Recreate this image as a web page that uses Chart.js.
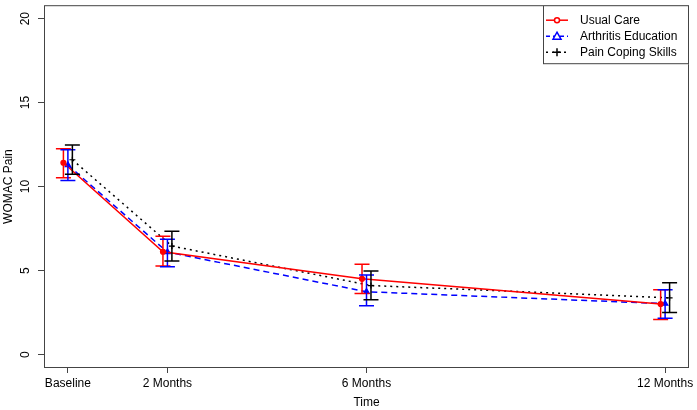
<!DOCTYPE html>
<html>
<head>
<meta charset="utf-8">
<script src="https://cdn.jsdelivr.net/npm/chart.js@4/dist/chart.umd.min.js"></script>
<style>
  html, body { margin: 0; padding: 0; background: #fff; }
  #wrap { width: 697px; height: 410px; }
</style>
</head>
<body>
<div id="wrap"><canvas id="chart"></canvas></div>
<script>
// time points (months) and their axis labels
var timeMonths = [0, 2, 6, 12];
var timeLabels = ["Baseline", "2 Months", "6 Months", "12 Months"];

// WOMAC pain means with lower / upper error bar ends
var usualCare      = [11.42, 6.12, 4.51, 3.01];
var usualCareLow   = [10.53, 5.27, 3.64, 2.09];
var usualCareHigh  = [12.26, 7.05, 5.37, 3.86];

var arthritisEd     = [11.28, 6.10, 3.74, 3.03];
var arthritisEdLow  = [10.36, 5.23, 2.91, 2.16];
var arthritisEdHigh = [12.19, 6.87, 4.74, 3.86];

var painCoping     = [11.60, 6.46, 4.11, 3.38];
var painCopingLow  = [10.73, 5.57, 3.27, 2.50];
var painCopingHigh = [12.48, 7.34, 4.98, 4.27];

var yTicks = [0, 5, 10, 15, 20];

var FONT = "'Liberation Sans', Arial, sans-serif";

function points(vals, shift){
  return vals.map(function(v, i){ return {x: timeMonths[i] + shift, y: v}; });
}

var seriesInfo = [
  {label: "Usual Care", color: "#ff0000", dash: [], pt: "circle", vals: usualCare, lo: usualCareLow, hi: usualCareHigh, shift: -0.09, r: 2.5},
  {label: "Arthritis Education", color: "#0000ff", dash: [6, 4], pt: "triangle", vals: arthritisEd, lo: arthritisEdLow, hi: arthritisEdHigh, shift: 0, r: 3.2},
  {label: "Pain Coping Skills", color: "#000000", dash: [2, 4], pt: "cross", vals: painCoping, lo: painCopingLow, hi: painCopingHigh, shift: 0.09, r: 3}
];

var datasets = seriesInfo.map(function(s){
  return {
    label: s.label,
    data: points(s.vals, s.shift),
    borderColor: s.color,
    backgroundColor: s.color,
    borderWidth: 1.5,
    borderDash: s.dash,
    pointStyle: s.pt,
    pointRadius: s.r,
    pointBorderWidth: 1.2,
    pointBorderColor: s.color,
    pointBackgroundColor: s.color,
    tension: 0,
    fill: false
  };
});

// error bars, drawn through the chart's own scales
var errorBars = {
  id: "errorBars",
  afterDatasetsDraw: function(chart){
    var ctx = chart.ctx, ys = chart.scales.y;
    seriesInfo.forEach(function(s, di){
      var meta = chart.getDatasetMeta(di);
      ctx.save();
      ctx.strokeStyle = s.color;
      ctx.lineWidth = 1.5;
      meta.data.forEach(function(p, i){
        var x = p.x, y1 = ys.getPixelForValue(s.lo[i]), y2 = ys.getPixelForValue(s.hi[i]);
        ctx.beginPath();
        ctx.moveTo(x, y1); ctx.lineTo(x, y2);
        ctx.moveTo(x - 7.5, y1); ctx.lineTo(x + 7.5, y1);
        ctx.moveTo(x - 7.5, y2); ctx.lineTo(x + 7.5, y2);
        ctx.stroke();
      });
      ctx.restore();
    });
  }
};

// box around plot, rotated y tick labels (R style) and legend top right
var boxAndLegend = {
  id: "boxAndLegend",
  afterDraw: function(chart){
    var ctx = chart.ctx, a = chart.chartArea, ys = chart.scales.y;
    ctx.save();
    ctx.strokeStyle = "#444";
    ctx.lineWidth = 1;
    ctx.strokeRect(a.left + 0.5, a.top + 0.5, a.right - a.left - 1, a.bottom - a.top - 1);

    ctx.font = "12px " + FONT;
    ctx.fillStyle = "#000";
    ctx.textAlign = "center";
    ctx.textBaseline = "middle";
    yTicks.forEach(function(v){
      ctx.save();
      ctx.translate(a.left - 18, ys.getPixelForValue(v));
      ctx.rotate(-Math.PI / 2);
      ctx.fillText(String(v), 0, 0);
      ctx.restore();
    });

    var lx = a.right - 146, ly = a.top, lw = 146, lh = 59;
    ctx.fillStyle = "#fff";
    ctx.fillRect(lx, ly, lw, lh);
    ctx.strokeRect(lx + 0.5, ly + 0.5, lw - 1, lh - 1);
    ctx.textBaseline = "middle";
    ctx.textAlign = "left";
    seriesInfo.forEach(function(s, i){
      var yy = ly + 15 + i * 16;
      ctx.strokeStyle = s.color;
      ctx.lineWidth = 1.5;
      ctx.setLineDash(s.dash.length ? (i === 1 ? [4, 3] : [2, 4]) : []);
      ctx.beginPath();
      ctx.moveTo(lx + 3, yy); ctx.lineTo(lx + 25, yy);
      ctx.stroke();
      ctx.setLineDash([]);
      var cx = lx + 14;
      ctx.beginPath();
      if (s.pt === "circle") {
        ctx.fillStyle = "#fff";
        ctx.arc(cx, yy, 2.5, 0, Math.PI * 2);
        ctx.fill(); ctx.stroke();
      } else if (s.pt === "triangle") {
        ctx.fillStyle = "#fff";
        ctx.moveTo(cx, yy - 4); ctx.lineTo(cx + 4, yy + 3); ctx.lineTo(cx - 4, yy + 3); ctx.closePath();
        ctx.fill(); ctx.stroke();
      } else {
        ctx.moveTo(cx - 4, yy); ctx.lineTo(cx + 4, yy);
        ctx.moveTo(cx, yy - 4); ctx.lineTo(cx, yy + 4);
        ctx.stroke();
      }
      ctx.fillStyle = "#000";
      ctx.fillText(s.label, lx + 37, yy);
    });
    ctx.restore();
  }
};

new Chart(document.getElementById("chart").getContext("2d"), {
  type: "line",
  data: {datasets: datasets},
  options: {
    responsive: true,
    maintainAspectRatio: false,
    animation: false,
    layout: {padding: {top: 3, right: 8, left: 0, bottom: 0}},
    plugins: {legend: {display: false}, tooltip: {enabled: false}},
    scales: {
      x: {
        type: "linear",
        min: -0.48,
        max: 12.48,
        afterBuildTicks: function(sc){ sc.ticks = timeMonths.map(function(v){ return {value: v}; }); },
        afterFit: function(sc){ sc.height = 42; sc.paddingLeft = 0; sc.paddingRight = 0; },
        grid: {drawOnChartArea: false, drawTicks: true, tickLength: 5, color: "#444"},
        border: {display: false},
        ticks: {
          color: "#000", padding: 3, maxRotation: 0, autoSkip: false,
          font: {family: FONT, size: 12},
          callback: function(v){ var i = timeMonths.indexOf(v); return i >= 0 ? timeLabels[i] : ""; }
        },
        title: {display: true, text: "Time", color: "#000", padding: 0, font: {family: FONT, size: 12}}
      },
      y: {
        type: "linear",
        min: -0.8,
        max: 20.8,
        afterBuildTicks: function(sc){ sc.ticks = yTicks.map(function(v){ return {value: v}; }); },
        afterFit: function(sc){ sc.width = 44; sc.paddingTop = 0; sc.paddingBottom = 0; },
        grid: {drawOnChartArea: false, drawTicks: true, tickLength: 6, color: "#444"},
        border: {display: false},
        ticks: {display: false},
        title: {display: true, text: "WOMAC Pain", color: "#000", padding: {top: 1, bottom: 0}, font: {family: FONT, size: 12}}
      }
    }
  },
  plugins: [errorBars, boxAndLegend]
});
</script>
</body>
</html>
